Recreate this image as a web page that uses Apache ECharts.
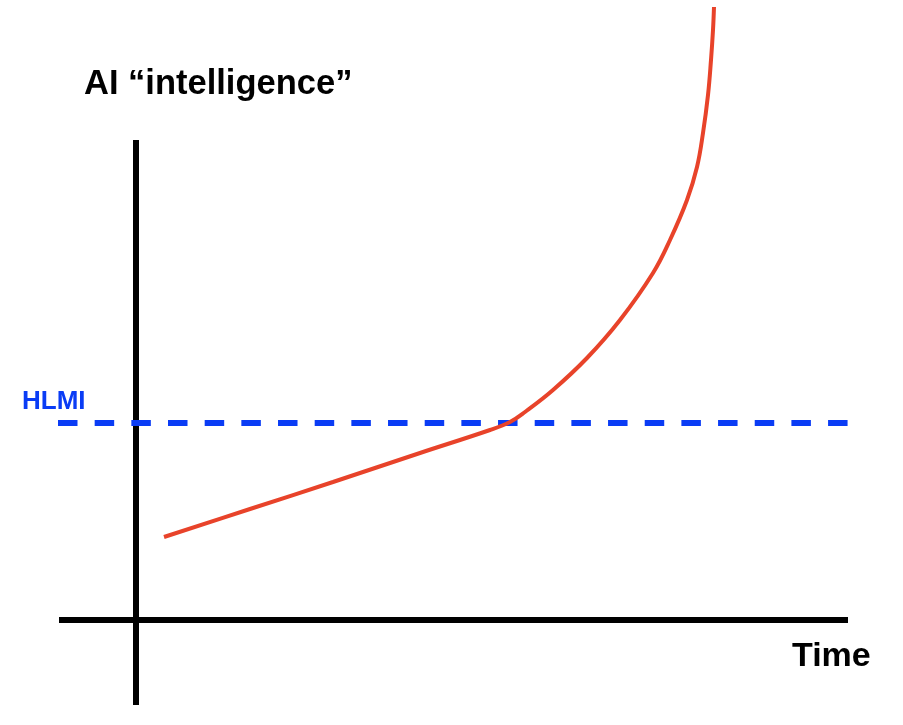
<!DOCTYPE html>
<html>
<head>
<meta charset="utf-8">
<script src="https://cdn.jsdelivr.net/npm/echarts@6/dist/echarts.min.js"></script>
<style>
html,body{margin:0;padding:0;background:#fff;}
#chart{width:903px;height:725px;}
</style>
</head>
<body>
<div id="chart"></div>
<script>
// Data (arbitrary units: time vs. AI "intelligence")
var yAxisTitle = 'AI “intelligence”';
var xAxisTitle = 'Time';
var thresholdLabel = 'HLMI';
var hlmiLevel = 19.7;
var timeRange = [-7.7, 71.2];
var intelRange = [-8.5, 48];
var hlmiSpan = [-7.8, 71.2];
var curveTime = [2.8, 11.4, 19.7, 28.4, 35.4, 37.4, 38.9, 41.7, 45.1, 48.4, 51.7, 53.4, 55.1, 56.1, 56.7, 57.2, 57.5, 57.7, 57.8];
var curveIntel = [8.3, 11.1, 13.8, 16.7, 19.0, 19.8, 20.8, 23.0, 26.2, 30.0, 34.7, 38.0, 42.0, 45.3, 48.7, 52.5, 56.0, 59.0, 61.3];

var curveData = curveTime.map(function (t, i) { return [t, curveIntel[i]]; });
var hlmiData = [[hlmiSpan[0], hlmiLevel], [hlmiSpan[1], hlmiLevel]];

var chart = echarts.init(document.getElementById('chart'), null, {renderer: 'canvas'});
var font = '"Liberation Sans", Arial, Helvetica, sans-serif';
chart.setOption({
  animation: false,
  backgroundColor: '#ffffff',
  title: [
    {text: yAxisTitle, left: 79, top: 62, padding: 5, textStyle: {fontFamily: font, fontWeight: 'bold', fontSize: 34.5, color: '#000'}},
    {text: xAxisTitle, left: 787, top: 635, padding: 5, textStyle: {fontFamily: font, fontWeight: 'bold', fontSize: 34, color: '#000'}},
    {text: thresholdLabel, left: 17, top: 384, padding: 5, textStyle: {fontFamily: font, fontWeight: 'bold', fontSize: 26, color: '#0a3cf5'}}
  ],
  grid: {left: 59, right: 55, top: 140, bottom: 20, containLabel: false},
  xAxis: {
    type: 'value', min: timeRange[0], max: timeRange[1],
    axisLine: {show: true, onZero: true, lineStyle: {color: '#000', width: 6, cap: 'butt'}},
    axisTick: {show: false}, axisLabel: {show: false}, splitLine: {show: false}
  },
  yAxis: {
    type: 'value', min: intelRange[0], max: intelRange[1],
    axisLine: {show: true, onZero: true, lineStyle: {color: '#000', width: 6, cap: 'butt'}},
    axisTick: {show: false}, axisLabel: {show: false}, splitLine: {show: false}
  },
  series: [
    {
      name: 'HLMI', type: 'line', data: hlmiData, symbol: 'none', silent: true, clip: false,
      lineStyle: {color: '#0a3cf5', width: 6, type: [19.5, 17.17], cap: 'butt'}, z: 3
    },
    {
      name: 'AI', type: 'line', data: curveData, symbol: 'none', clip: false,
      smooth: 0.4, silent: true,
      lineStyle: {color: '#e8432a', width: 4}, z: 4
    }
  ]
});
</script>
</body>
</html>
